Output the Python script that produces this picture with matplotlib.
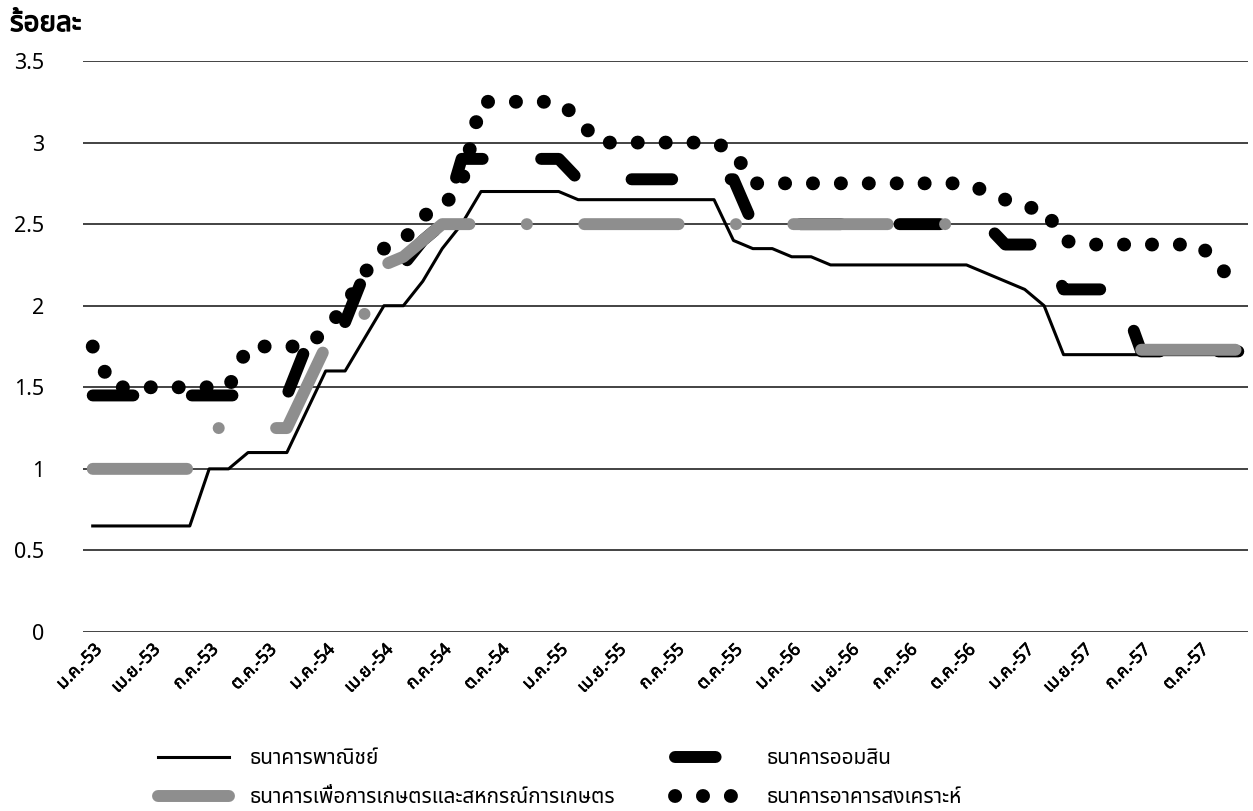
import numpy as np
import matplotlib
matplotlib.use('Agg')
import matplotlib.pyplot as plt
import matplotlib.patheffects as pe
from matplotlib import font_manager, ft2font

# ===============================
# DATA (monthly, ม.ค.-53 .. ธ.ค.-57)
# ===============================

tick_labels = ['ม.ค.-53', 'เม.ย.-53', 'ก.ค.-53', 'ต.ค.-53',
               'ม.ค.-54', 'เม.ย.-54', 'ก.ค.-54', 'ต.ค.-54',
               'ม.ค.-55', 'เม.ย.-55', 'ก.ค.-55', 'ต.ค.-55',
               'ม.ค.-56', 'เม.ย.-56', 'ก.ค.-56', 'ต.ค.-56',
               'ม.ค.-57', 'เม.ย.-57', 'ก.ค.-57', 'ต.ค.-57']

series_names = ['ธนาคารพาณิชย์',
                'ธนาคารเพื่อการเกษตรและสหกรณ์การเกษตร',
                'ธนาคารออมสิน',
                'ธนาคารอาคารสงเคราะห์']

commercial = [0.65, 0.65, 0.65, 0.65, 0.65, 0.65, 1.0, 1.0, 1.1, 1.1, 1.1, 1.35,
              1.6, 1.6, 1.8, 2.0, 2.0, 2.15, 2.35, 2.5, 2.7, 2.7, 2.7, 2.7,
              2.7, 2.65, 2.65, 2.65, 2.65, 2.65, 2.65, 2.65, 2.65, 2.4, 2.35, 2.35,
              2.3, 2.3, 2.25, 2.25, 2.25, 2.25, 2.25, 2.25, 2.25, 2.25, 2.2, 2.15,
              2.1, 2.0, 1.7, 1.7, 1.7, 1.7, 1.7, 1.7, 1.7, 1.7, 1.7, 1.7]

gsb = [1.45, 1.45, 1.45, 1.45, 1.45, 1.45, 1.45, 1.45, 1.45, 1.45, 1.45, 1.75,
       1.75, 1.9, 2.2, 2.25, 2.25, 2.4, 2.5, 2.9, 2.9, 2.9, 2.9, 2.9,
       2.9, 2.775, 2.775, 2.775, 2.775, 2.775, 2.775, 2.775, 2.775, 2.775, 2.5, 2.5,
       2.5, 2.5, 2.5, 2.5, 2.5, 2.5, 2.5, 2.5, 2.5, 2.5, 2.5, 2.375,
       2.375, 2.375, 2.1, 2.1, 2.1, 2.05, 1.72, 1.72, 1.72, 1.72, 1.72, 1.72]

baac = [1.0, 1.0, 1.0, 1.0, 1.0, 1.0, 1.25, 1.25, 1.25, 1.25, 1.25, 1.5,
        1.75, 1.85, 1.95, 2.25, 2.3, 2.4, 2.5, 2.5, 2.5, 2.5, 2.5, 2.5,
        2.5, 2.5, 2.5, 2.5, 2.5, 2.5, 2.5, 2.5, 2.5, 2.5, 2.5, 2.5,
        2.5, 2.5, 2.5, 2.5, 2.5, 2.5, 2.5, 2.5, 2.5, 2.5, 2.5, np.nan,
        np.nan, np.nan, np.nan, np.nan, np.nan, np.nan, 1.73, 1.73, 1.73, 1.73, 1.73, 1.73]

ghb = [1.75, 1.5, 1.5, 1.5, 1.5, 1.5, 1.5, 1.5, 1.75, 1.75, 1.75, 1.75,
       1.85, 2.0, 2.2, 2.35, 2.4, 2.55, 2.6, 2.75, 3.25, 3.25, 3.25, 3.25,
       3.25, 3.15, 3.0, 3.0, 3.0, 3.0, 3.0, 3.0, 3.0, 2.95, 2.75, 2.75,
       2.75, 2.75, 2.75, 2.75, 2.75, 2.75, 2.75, 2.75, 2.75, 2.75, 2.7, 2.65,
       2.6, 2.6, 2.4, 2.375, 2.375, 2.375, 2.375, 2.375, 2.375, 2.375, 2.25, 2.1]

y_ticks = [0, 0.5, 1, 1.5, 2, 2.5, 3, 3.5]
y_tick_labels = ['0', '0.5', '1', '1.5', '2', '2.5', '3', '3.5']

# ===============================
# FONT (need Thai glyphs)
# ===============================

def find_thai_font():
    pref = ['Noto Sans Thai', 'Noto Sans Thai UI', 'Tahoma', 'Loma', 'Garuda',
            'Sarabun', 'Waree', 'Umpush', 'Kinnari', 'Norasi', 'Tlwg Typo',
            'Sawasdee', 'Laksaman', 'Purisa', 'FreeSans', 'Leelawadee UI']
    found = {}
    for f in font_manager.fontManager.ttflist:
        if f.name in found:
            continue
        try:
            cmap = ft2font.FT2Font(f.fname).get_charmap()
        except Exception:
            continue
        if 0x0E23 in cmap and 0x0E32 in cmap:
            found[f.name] = f.fname
    for p in pref:
        if p in found:
            return p
    return next(iter(found), None)

thai = find_thai_font()
families = [thai, 'DejaVu Sans'] if thai else ['DejaVu Sans']
plt.rcParams['font.family'] = families

# fake bold for text that looks heavy in the scan
heavy = [pe.withStroke(linewidth=0.9, foreground='black')]
semi = [pe.withStroke(linewidth=0.5, foreground='black')]

# ===============================
# PLOT
# ===============================

W, H = 1253, 811
fig = plt.figure(figsize=(W / 100, H / 100), dpi=100)
ax = fig.add_axes([83 / W, 1 - 632 / H, (1248 - 83) / W, (632 - 61) / H])

x = np.arange(len(commercial))

l_com, = ax.plot(x, commercial, color='black', lw=2.2, zorder=3,
                 solid_joinstyle='round', label=series_names[0])
l_gsb, = ax.plot(x, gsb, color='black', lw=8.6, zorder=4,
                 linestyle=(0, (3.4, 4.9)), dash_capstyle='round',
                 dash_joinstyle='round', label=series_names[2])
l_baac, = ax.plot(x, baac, color='#8e8e8e', lw=8.6, zorder=5,
                  linestyle=(0, (7.9, 4.8, 0.01, 4.8)), dash_capstyle='round',
                  dash_joinstyle='round', label=series_names[1])
l_ghb, = ax.plot(x, ghb, color='black', lw=10, zorder=6,
                 linestyle=(0, (0.01, 2.0)), dash_capstyle='round',
                 label=series_names[3])

ax.set_xlim(-0.5, len(commercial) - 0.5)
ax.set_ylim(0, 3.5)
ax.set_yticks(y_ticks)
ax.set_yticklabels(y_tick_labels, fontsize=15.5)
ax.set_xticks(np.arange(0, len(commercial), 3))
ax.set_xticklabels(tick_labels, rotation=45, ha='right', rotation_mode='anchor',
                   fontsize=12.5)
for t in ax.get_xticklabels():
    t.set_path_effects(semi)
ax.tick_params(axis='both', length=0)
ax.tick_params(axis='y', pad=28)
ax.tick_params(axis='x', pad=6)

ax.yaxis.grid(True, color='#222222', lw=1.2)
ax.set_axisbelow(True)
for s in ax.spines.values():
    s.set_visible(False)

fig.text(10 / W, 1 - 31 / H, 'ร้อยละ', fontsize=20, va='baseline',
         path_effects=heavy)

# legend, two columns placed separately
leg1 = fig.legend(handles=[l_com, l_baac], loc='upper left',
                  bbox_to_anchor=(148 / W, 1 - 738 / H), frameon=False,
                  fontsize=15, handlelength=3.4, handletextpad=1.0,
                  labelspacing=0.85, borderpad=0)
leg2 = fig.legend(handles=[l_gsb, l_ghb], loc='upper left',
                  bbox_to_anchor=(665 / W, 1 - 738 / H), frameon=False,
                  fontsize=15, handlelength=3.4, handletextpad=1.0,
                  labelspacing=0.85, borderpad=0)

fig.savefig('out.png', dpi=100, facecolor='white')
